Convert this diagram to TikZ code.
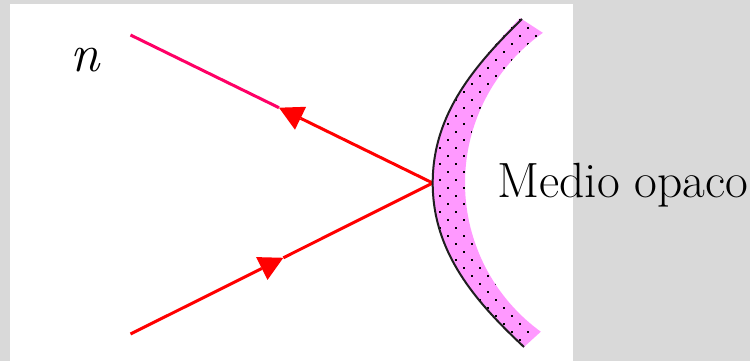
\documentclass[tikz,border=0pt]{standalone}
\usetikzlibrary{arrows.meta}
\definecolor{bggray}{HTML}{D9D9D9}
\definecolor{mirrorpink}{HTML}{FF99FF}
\definecolor{raypink}{HTML}{FF0066}
\definecolor{raired}{HTML}{FF0000}
\begin{document}
\begin{tikzpicture}[x=1pt,y=-1pt,
  ray/.style={line width=3pt, draw=raired},
  tipend/.style={-{Triangle[length=24pt,width=25.5pt,line width=0pt]}},
  mirrorline/.style={line width=2pt, draw=black!88},
  txt/.style={anchor=base west, inner sep=0pt}]
\fill[bggray] (0,0) rectangle (750,361);
\useasboundingbox (0,0) rectangle (750,361);
\fill[white] (9.5,4.5) rectangle (572.5,361);
% mirror band
\def\bandpath{(520,18) .. controls (476,64) and (432.7,113) .. (432.7,183)
  .. controls (432.7,253) and (476,302) .. (524,347)
  -- plot[domain=126:180, samples=40] ({648.8+183.8*cos(\x)},{183+183.8*sin(\x)})
  -- plot[domain=180:234.8, samples=40] ({648.8+183.8*cos(\x)},{183+183.8*sin(\x)}) -- cycle}
\fill[mirrorpink] \bandpath;
\begin{scope}
\clip \bandpath;
\foreach \n in {0,...,43}{
  \pgfmathsetmacro\off{mod(\n,2)*8}
  \foreach \m in {0,...,7}{
    \fill[black] ({432+\off+16*\m-1},{12+8*\n-1}) rectangle +(2,2);
  }
}
\end{scope}
% rays
\coordinate (M) at (432.7,183);
\coordinate (S1) at (130.5,35);
\coordinate (S2) at (130.5,334);
\coordinate (T1) at (279,107.7);
\coordinate (T2) at (283.3,257.8);
\draw[line width=3pt, draw=raypink] (S1) -- (T1);
\draw[ray, tipend] (M) -- (T1);
\draw[ray, tipend] (S2) -- (T2);
\draw[ray] (T2) -- (M);
% mirror surface
\draw[mirrorline] (522,19) .. controls (476,64) and (432.7,113) .. (432.7,183)
  .. controls (432.7,253) and (476,302) .. (524,347);
% labels
\node[txt, font=\fontsize{49.5}{60}\selectfont] (medio) at (497,197.7) {Medio opaco};
\node[txt, font=\fontsize{53}{64}\selectfont\itshape] (n) at (70,71) {n};
\end{tikzpicture}
\end{document}
